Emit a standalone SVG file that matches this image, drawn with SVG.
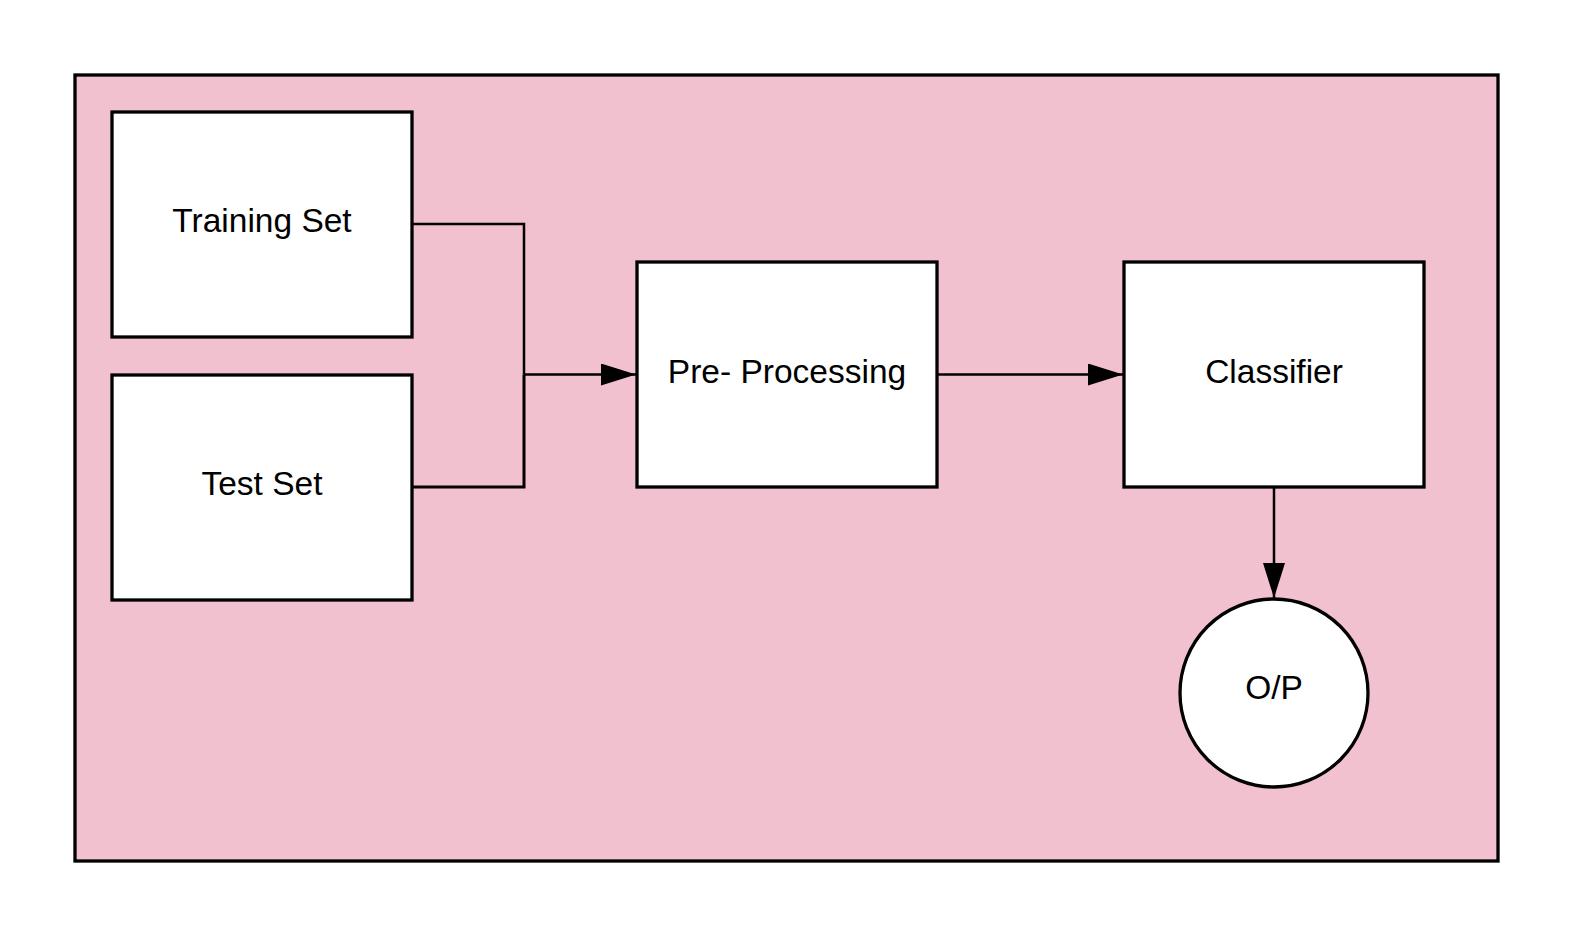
<svg xmlns="http://www.w3.org/2000/svg" width="1575" height="938" viewBox="0 0 1575 938">
<style>
.node{fill:#ffffff;stroke:#000;stroke-width:3.3}
.lbl{font-family:"Liberation Sans",Arial,sans-serif;font-size:33.5px;fill:#000;text-anchor:middle}
.conn{fill:none;stroke:#000;stroke-width:2.5}
</style>
<defs>
<marker id="arr" markerUnits="userSpaceOnUse" markerWidth="36" markerHeight="24" refX="35" refY="11" orient="auto">
<path d="M0,0 L35,11 L0,22 Z" fill="#000"/>
</marker>
</defs>
<rect width="1575" height="938" fill="#ffffff"/>
<g id="container">
<rect x="75" y="75" width="1423" height="786" fill="#f2c1d0" stroke="#000" stroke-width="3.3"/>
</g>
<g id="connectors">
<polyline class="conn" points="412,224 524,224 524,374.5"/>
<polyline class="conn" style="stroke-width:3" points="412,487 524,487 524,374.5"/>
<line class="conn" x1="524" y1="374.5" x2="636" y2="374.5" marker-end="url(#arr)"/>
<line class="conn" x1="937" y1="374.5" x2="1123" y2="374.5" marker-end="url(#arr)"/>
<line class="conn" x1="1274" y1="487" x2="1274" y2="598" marker-end="url(#arr)"/>
</g>
<g id="training-set">
<rect class="node" x="112" y="112" width="300" height="225"/>
<text class="lbl" x="262" y="232">Training Set</text>
</g>
<g id="test-set">
<rect class="node" x="112" y="375" width="300" height="225"/>
<text class="lbl" x="262" y="495">Test Set</text>
</g>
<g id="pre-processing">
<rect class="node" x="637" y="262" width="300" height="225"/>
<text class="lbl" x="787" y="383">Pre- Processing</text>
</g>
<g id="classifier">
<rect class="node" x="1124" y="262" width="300" height="225"/>
<text class="lbl" x="1274" y="383">Classifier</text>
</g>
<g id="op">
<circle class="node" cx="1274" cy="693" r="94"/>
<text class="lbl" x="1274" y="699">O/P</text>
</g>
</svg>
